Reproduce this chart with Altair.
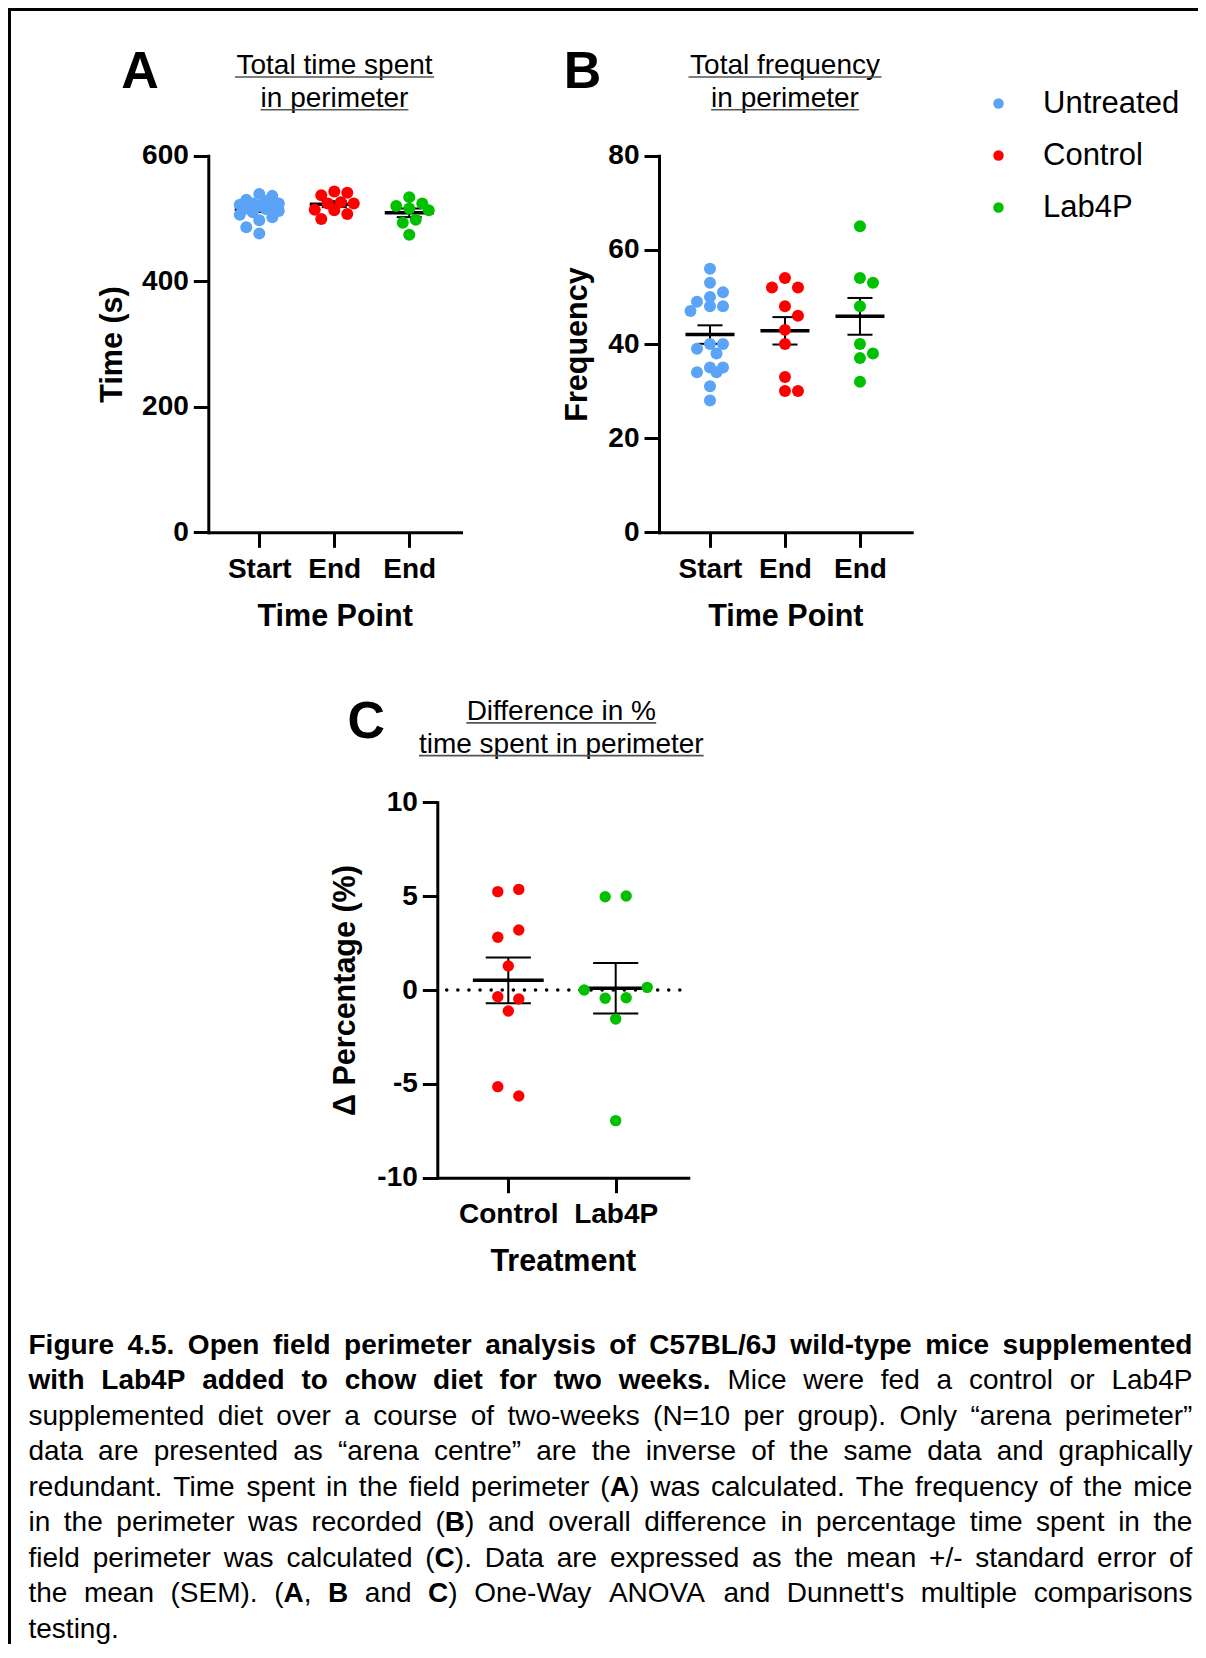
import math
import numpy as np
import pandas as pd
import altair as alt

# ---------------- data ----------------
groups = ["Untreated", "Control", "Lab4P"]
group_colors = ["#5AA3F6", "#FF0000", "#00C000"]

time_points = ["Start", "End", "End"]
treatments = ["Control", "Lab4P"]

# Panel A: total time spent in perimeter (s)
time_untreated = [539, 536, 530, 528, 524, 524, 522, 520, 518, 516, 515, 512, 510, 506, 502, 497, 486, 476]
time_control = [541, 537, 543, 526, 524, 524, 507, 513, 514, 499]
time_lab4p = [524, 534, 520, 516, 513, 498, 493, 474]

# Panel B: total frequency in perimeter
freq_untreated = [56, 53, 51, 50, 49, 48, 48, 47, 40, 40, 39, 38, 35, 35, 34, 34, 31, 28]
freq_control = [52, 54, 52, 48, 46, 43, 40, 33, 30, 30]
freq_lab4p = [65, 53, 54, 48, 40, 38, 37, 32]

# Panel C: difference in % time spent in perimeter
diff_control = [5.24, 5.36, 2.81, 3.20, 1.28, -0.36, -0.48, -1.12, -5.15, -5.65]
diff_lab4p = [4.97, 5.01, 0.00, -0.44, -0.41, 0.14, -1.55, -6.96]

caption_lines = [
    "**Figure 4.5. Open field perimeter analysis of C57BL/6J wild-type mice supplemented**",
    "**with Lab4P added to chow diet for two weeks.** Mice were fed a control or Lab4P",
    "supplemented diet over a course of two-weeks (N=10 per group). Only \u201carena perimeter\u201d",
    "data are presented as \u201carena centre\u201d are the inverse of the same data and graphically",
    "redundant. Time spent in the field perimeter (**A**) was calculated. The frequency of the mice",
    "in the perimeter was recorded (**B**) and overall difference in percentage time spent in the",
    "field perimeter was calculated (**C**). Data are expressed as the mean +/- standard error of",
    "the mean (SEM). (**A**, **B** and **C**) One-Way ANOVA and Dunnett's multiple comparisons",
    "testing.",
]

# ---------------- layout / style ----------------
F = "Liberation Sans"
W, H = 1190, 1636
TICK_FS, TITLE_FS = 28, 30.5

REG = {' ': 278, '(': 333, ')': 333, ',': 278, '-': 333, '.': 278, '/': 278, '=': 584, '+': 584,
       "'": 191, '%': 889, '\u201c': 333, '\u201d': 333,
       'A': 667, 'B': 667, 'C': 722, 'D': 722, 'E': 667, 'F': 611, 'G': 778, 'H': 722, 'I': 278,
       'J': 500, 'K': 667, 'L': 556, 'M': 833, 'N': 722, 'O': 778, 'P': 667, 'Q': 778, 'R': 722,
       'S': 667, 'T': 611, 'U': 722, 'V': 667, 'W': 944, 'X': 667, 'Y': 667, 'Z': 611,
       'a': 556, 'b': 556, 'c': 500, 'd': 556, 'e': 556, 'f': 278, 'g': 556, 'h': 556, 'i': 222,
       'j': 222, 'k': 500, 'l': 222, 'm': 833, 'n': 556, 'o': 556, 'p': 556, 'q': 556, 'r': 333,
       's': 500, 't': 278, 'u': 556, 'v': 500, 'w': 722, 'x': 500, 'y': 500, 'z': 500}
BOLD = {' ': 278, '(': 333, ')': 333, ',': 278, '-': 333, '.': 278, '/': 278, '=': 584, "'": 238,
        'A': 722, 'B': 722, 'C': 722, 'D': 722, 'E': 667, 'F': 611, 'G': 778, 'H': 722, 'I': 278,
        'J': 556, 'K': 722, 'L': 611, 'M': 833, 'N': 722, 'O': 778, 'P': 667, 'Q': 778, 'R': 722,
        'S': 667, 'T': 611, 'U': 722, 'V': 667, 'W': 944, 'X': 667, 'Y': 667, 'Z': 611,
        'a': 556, 'b': 611, 'c': 556, 'd': 611, 'e': 556, 'f': 333, 'g': 611, 'h': 611, 'i': 278,
        'j': 278, 'k': 556, 'l': 278, 'm': 889, 'n': 611, 'o': 611, 'p': 611, 'q': 611, 'r': 389,
        's': 556, 't': 333, 'u': 611, 'v': 556, 'w': 778, 'x': 556, 'y': 556, 'z': 500}


def text_width(s, bold, size):
    tbl = BOLD if bold else REG
    return sum(tbl.get(c, 556) for c in s) * size / 1000.0


def swarm(vals, ppu, step, diam, lattice, kmax):
    """Greedy beeswarm on a horizontal lattice (pixel space), returns offsets in x units."""
    order = sorted(range(len(vals)), key=lambda i: -vals[i])
    cands = [0]
    for k in range(1, kmax + 1):
        cands += [k, -k]
    placed = []
    offs = [0.0] * len(vals)
    for i in order:
        y = vals[i] * ppu
        chosen, best_x, best_d = None, 0.0, -1.0
        for k in cands:
            x = k * lattice
            d = min((math.hypot(x - px, y - py) for px, py in placed), default=1e9)
            if d >= diam:
                chosen = x
                break
            if d > best_d:
                best_d, best_x = d, x
        if chosen is None:
            chosen = best_x
        placed.append((chosen, y))
        offs[i] = chosen / step
    return offs


def rows_swarm(vals, ppu, step, diam, spacing, kmax=None):
    """Row-based centred arrangement: values within one dot diameter share a row."""
    order = sorted(range(len(vals)), key=lambda i: -vals[i])
    rows, cur, top = [], [], None
    for i in order:
        if cur and (top - vals[i]) * ppu < diam:
            cur.append(i)
        else:
            if cur:
                rows.append(cur)
            cur, top = [i], vals[i]
    if cur:
        rows.append(cur)
    offs = [0.0] * len(vals)
    for r in rows:
        r = sorted(r)  # keep list order inside a row
        k = len(r)
        for j, i in enumerate(r):
            offs[i] = (j - (k - 1) / 2) * spacing / step
    return offs


# Vega symbol size = area of the bounding square (diameter = sqrt(size))
legend = alt.Legend(orient="none", legendX=975, legendY=80, title=None, direction="vertical",
                    symbolType="circle", symbolSize=110, symbolStrokeWidth=0, symbolOpacity=1,
                    labelFont=F, labelFontSize=31, labelColor="black", labelOffset=29,
                    rowPadding=20, padding=0, labelLimit=400)
color_enc = alt.Color("group:N", scale=alt.Scale(domain=groups, range=group_colors), legend=legend)


def panel_layers(series, names, tick_labels, x_dom, x_rng, y_dom, y_rng, y_ticks,
                 y_title, x_title, ytitle_dx, mean_hw, cap_hw, dot_size, arrange, diam, lattice, kmax):
    ppu = abs(y_rng[0] - y_rng[1]) / (y_dom[1] - y_dom[0])
    step = (x_rng[1] - x_rng[0]) / (x_dom[1] - x_dom[0])
    rows, summ = [], []
    for i, (vals, g) in enumerate(zip(series, names)):
        offs = arrange(vals, ppu, step, diam, lattice, kmax)
        for v, o in zip(vals, offs):
            rows.append({"group": g, "xpos": i + o, "value": v})
        arr = np.array(vals, dtype=float)
        m = arr.mean()
        s = arr.std(ddof=1) / math.sqrt(len(arr))
        summ.append({"i": i, "mean": m, "lo": m - s, "hi": m + s,
                     "ml": i - mean_hw, "mr": i + mean_hw, "cl": i - cap_hw, "cr": i + cap_hw})
    pts = pd.DataFrame(rows)
    sm = pd.DataFrame(summ)
    xs = alt.Scale(domain=x_dom, range=x_rng, nice=False, zero=False)
    ys = alt.Scale(domain=y_dom, range=y_rng, nice=False, zero=False)
    label_list = "[" + ",".join("'" + t + "'" for t in tick_labels) + "]"
    xaxis = alt.Axis(orient="bottom", offset=y_rng[0] - H, values=list(range(len(tick_labels))),
                     labelExpr=label_list + "[datum.value]", title=x_title, grid=False,
                     domainColor="black", domainWidth=3, domainCap="square",
                     tickColor="black", tickWidth=3, tickSize=15,
                     labelFont=F, labelFontSize=TICK_FS, labelFontWeight="bold", labelColor="black",
                     labelPadding=8, labelFlush=False, labelOverlap=False,
                     titleFont=F, titleFontSize=TITLE_FS, titleFontWeight="bold", titleColor="black",
                     titleX=(x_rng[0] + x_rng[1]) / 2, titleY=84, titleAlign="center",
                     titleBaseline="middle")
    yaxis = alt.Axis(orient="left", offset=-x_rng[0], values=y_ticks, title=y_title, grid=False,
                     labelExpr="toString(datum.value)",
                     domainColor="black", domainWidth=3, domainCap="square",
                     tickColor="black", tickWidth=3, tickSize=15,
                     labelFont=F, labelFontSize=TICK_FS, labelFontWeight="bold", labelColor="black",
                     labelPadding=5, labelFlush=False, labelOverlap=False,
                     titleFont=F, titleFontSize=TITLE_FS, titleFontWeight="bold", titleColor="black",
                     titleX=ytitle_dx, titleY=(y_rng[0] + y_rng[1]) / 2, titleAngle=270,
                     titleAlign="center", titleBaseline="middle")
    base = alt.Chart(sm)
    mean_rule = base.mark_rule(color="black", strokeWidth=3.5).encode(
        x=alt.X("ml:Q", scale=xs, axis=None), x2="mr:Q", y=alt.Y("mean:Q", scale=ys, axis=None))
    err = base.mark_rule(color="black", strokeWidth=2).encode(
        x=alt.X("i:Q", scale=xs, axis=None), y=alt.Y("lo:Q", scale=ys, axis=None), y2="hi:Q")
    cap_hi = base.mark_rule(color="black", strokeWidth=2).encode(
        x=alt.X("cl:Q", scale=xs, axis=None), x2="cr:Q", y=alt.Y("hi:Q", scale=ys, axis=None))
    cap_lo = base.mark_rule(color="black", strokeWidth=2).encode(
        x=alt.X("cl:Q", scale=xs, axis=None), x2="cr:Q", y=alt.Y("lo:Q", scale=ys, axis=None))
    points = alt.Chart(pts).mark_circle(size=dot_size, opacity=1).encode(
        x=alt.X("xpos:Q", scale=xs, axis=xaxis),
        y=alt.Y("value:Q", scale=ys, axis=yaxis),
        color=color_enc)
    return [mean_rule, err, cap_hi, cap_lo, points], ys


def text_layer(s, x, y, size, weight="normal", align="center"):
    return alt.Chart(pd.DataFrame({"t": [s]})).mark_text(
        font=F, fontSize=size, fontWeight=weight, align=align, baseline="alphabetic",
        color="black").encode(x=alt.value(x), y=alt.value(y), text="t:N")


def underline(s, cx, y, size):
    w = text_width(s, False, size)
    return alt.Chart(pd.DataFrame({"a": [0]})).mark_rule(color="#555555", strokeWidth=1.6).encode(
        x=alt.value(cx - w / 2), x2=alt.value(cx + w / 2), y=alt.value(y))


def panel_title(lines, cx, baselines, size=28):
    out = []
    for s, b in zip(lines, baselines):
        out.append(text_layer(s, cx, b, size))
        out.append(underline(s, cx, b + 3, size))
    return out


layers = []

# frame (top and left edges)
frame = pd.DataFrame({"a": [0]})
layers.append(alt.Chart(frame).mark_rule(color="black", strokeWidth=3).encode(
    x=alt.value(0), x2=alt.value(W), y=alt.value(1.5)))
layers.append(alt.Chart(frame).mark_rule(color="black", strokeWidth=3).encode(
    x=alt.value(1.5), y=alt.value(0), y2=alt.value(H)))

# Panel A
la, _ = panel_layers([time_untreated, time_control, time_lab4p], groups, time_points,
                     [-0.68, 2.69], [200.3, 453.0], [0, 600], [524.3, 147.7], [0, 200, 400, 600],
                     "Time (s)", "Time Point", -95.8, 0.327, 0.167, 144, swarm, 12, 6.5, 3)
layers += la
# Panel B
lb, _ = panel_layers([freq_untreated, freq_control, freq_lab4p], groups, time_points,
                     [-0.68, 2.69], [651.0, 903.7], [0, 80], [524.3, 147.7], [0, 20, 40, 60, 80],
                     "Frequency", "Time Point", -81.3, 0.327, 0.167, 144, swarm, 12, 6.5, 3)
layers += lb
# Panel C
lc, ys_c = panel_layers([diff_control, diff_lab4p], treatments, treatments,
                        [-0.661, 1.676], [429.3, 680.3], [-10, 10], [1169.7, 794.3],
                        [-10, -5, 0, 5, 10],
                        "\u0394 Percentage (%)", "Treatment", -91.8, 0.33, 0.21, 130,
                        rows_swarm, 12, 21, None)
zero_line = alt.Chart(pd.DataFrame({"zero": [0]})).mark_rule(
    color="black", strokeWidth=3.5, strokeDash=[0.1, 11], strokeCap="round").encode(
    x=alt.value(438.7), x2=alt.value(678.7), y=alt.Y("zero:Q", scale=ys_c, axis=None))
layers += [zero_line] + lc

# Panel letters and titles
layers.append(text_layer("A", 132, 79.7, 52, "bold"))
layers.append(text_layer("B", 574.5, 79.7, 52, "bold"))
layers.append(text_layer("C", 358.3, 729.8, 52, "bold"))
layers += panel_title(["Total time spent", "in perimeter"], 326.5, [66, 98.8])
layers += panel_title(["Total frequency", "in perimeter"], 777.0, [66, 98.8])
layers += panel_title(["Difference in %", "time spent in perimeter"], 553.3, [711.9, 744.6])

# Caption (justified)
CAP_FS, CAP_X0, CAP_X1, CAP_Y0, CAP_DY = 28, 20.5, 1184.4, 1345.5, 35.5


def parse(line):
    chars, bold, i = [], False, 0
    while i < len(line):
        if line.startswith("**", i):
            bold = not bold
            i += 2
            continue
        chars.append((line[i], bold))
        i += 1
    words, cur = [], []
    for c, b in chars:
        if c == " ":
            if cur:
                words.append(cur)
                cur = []
        else:
            cur.append((c, b))
    if cur:
        words.append(cur)
    out = []
    for w in words:
        segs = []
        for c, b in w:
            if segs and segs[-1][1] == b:
                segs[-1][0] += c
            else:
                segs.append([c, b])
        out.append(segs)
    return out


reg_rows, bold_rows = [], []
for li, line in enumerate(caption_lines):
    words = parse(line)
    widths = [sum(text_width(s, b, CAP_FS) for s, b in w) for w in words]
    y = CAP_Y0 + li * CAP_DY
    if li < len(caption_lines) - 1 and len(words) > 1:
        gap = (CAP_X1 - CAP_X0 - sum(widths)) / (len(words) - 1)
    else:
        gap = text_width(" ", False, CAP_FS)
    x = CAP_X0
    for w, wd in zip(words, widths):
        sx = x
        for s, b in w:
            (bold_rows if b else reg_rows).append({"px": sx, "py": y, "w": s})
            sx += text_width(s, b, CAP_FS)
        x += wd + gap

for rows_, weight in [(reg_rows, "normal"), (bold_rows, "bold")]:
    layers.append(alt.Chart(pd.DataFrame(rows_)).mark_text(
        font=F, fontSize=CAP_FS, fontWeight=weight, align="left", baseline="alphabetic",
        color="black").encode(
        x=alt.X("px:Q", scale=None, axis=None), y=alt.Y("py:Q", scale=None, axis=None),
        text="w:N"))

chart = alt.layer(*layers).resolve_scale(x="independent", y="independent").properties(
    width=W, height=H, autosize=alt.AutoSizeParams(type="none", contains="padding"), padding=0
).configure(font=F).configure_view(stroke=None)

chart.save("out.html", embed_options={"renderer": "svg", "actions": False})
